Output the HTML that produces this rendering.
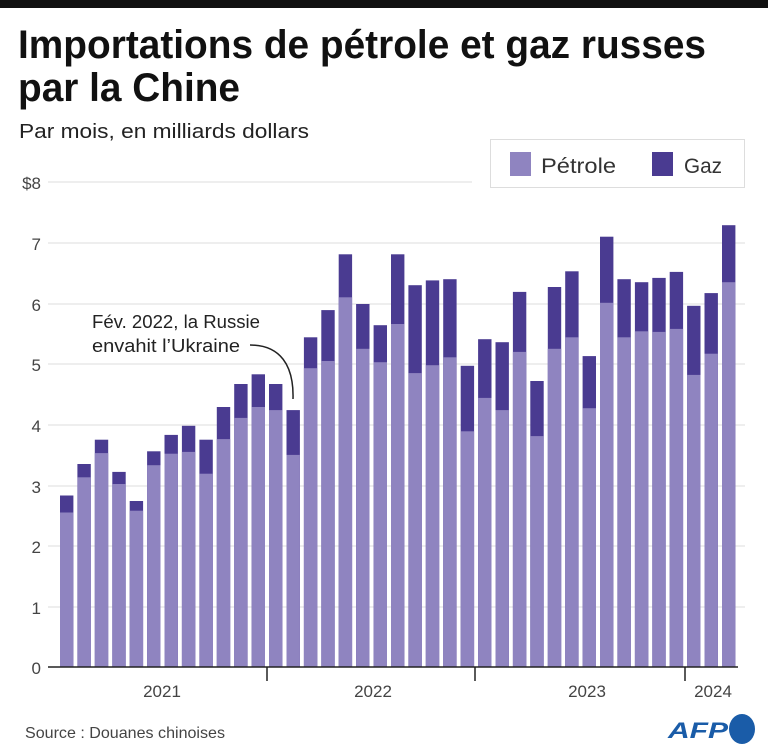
<!DOCTYPE html>
<html><head><meta charset="utf-8"><style>body{margin:0;background:#fff}svg{display:block}</style></head>
<body>
<svg width="768" height="755" xmlns="http://www.w3.org/2000/svg" font-family="Liberation Sans, sans-serif">
<rect x="0" y="0" width="768" height="8" fill="#111"/>
<text x="18" y="58" font-size="40" font-weight="bold" fill="#111" textLength="688" lengthAdjust="spacingAndGlyphs">Importations de pétrole et gaz russes</text>
<text x="18" y="101" font-size="40" font-weight="bold" fill="#111" textLength="222" lengthAdjust="spacingAndGlyphs">par la Chine</text>
<text x="19" y="138" font-size="20" fill="#222" textLength="290" lengthAdjust="spacingAndGlyphs">Par mois, en milliards dollars</text>
<rect x="490.5" y="139.5" width="254" height="48" fill="#fff" stroke="#ddd"/>
<rect x="510" y="152" width="21" height="24" fill="#8f84c0"/>
<text x="541" y="173" font-size="21" fill="#333" textLength="75" lengthAdjust="spacingAndGlyphs">Pétrole</text>
<rect x="652" y="152" width="21" height="24" fill="#4a3b91"/>
<text x="684" y="173" font-size="21" fill="#333" textLength="38" lengthAdjust="spacingAndGlyphs">Gaz</text>
<g stroke="#ddd" stroke-width="1">
<line x1="48" y1="182" x2="472" y2="182"/>
<line x1="48" y1="243" x2="745" y2="243"/>
<line x1="48" y1="304" x2="745" y2="304"/>
<line x1="48" y1="364" x2="745" y2="364"/>
<line x1="48" y1="425" x2="745" y2="425"/>
<line x1="48" y1="486" x2="745" y2="486"/>
<line x1="48" y1="546" x2="745" y2="546"/>
<line x1="48" y1="607" x2="745" y2="607"/>
</g>
<g font-size="17" fill="#444" text-anchor="end">
<text x="41" y="189">$8</text><text x="41" y="250">7</text><text x="41" y="311">6</text><text x="41" y="371">5</text><text x="41" y="432">4</text><text x="41" y="493">3</text><text x="41" y="553">2</text><text x="41" y="614">1</text><text x="41" y="674">0</text>
</g>
<g fill="#4a3b91">
<rect x="60.0" y="495.5" width="13.4" height="171.5"/>
<rect x="77.4" y="464.0" width="13.4" height="203.0"/>
<rect x="94.8" y="439.7" width="13.4" height="227.3"/>
<rect x="112.3" y="471.9" width="13.4" height="195.1"/>
<rect x="129.7" y="501.0" width="13.4" height="166.0"/>
<rect x="147.1" y="451.3" width="13.4" height="215.7"/>
<rect x="164.5" y="434.9" width="13.4" height="232.1"/>
<rect x="181.9" y="425.8" width="13.4" height="241.2"/>
<rect x="199.4" y="439.7" width="13.4" height="227.3"/>
<rect x="216.8" y="407.0" width="13.4" height="260.0"/>
<rect x="234.2" y="384.0" width="13.4" height="283.0"/>
<rect x="251.6" y="374.3" width="13.4" height="292.7"/>
<rect x="269.0" y="384.0" width="13.4" height="283.0"/>
<rect x="286.5" y="410.1" width="13.4" height="256.9"/>
<rect x="303.9" y="337.3" width="13.4" height="329.7"/>
<rect x="321.3" y="310.1" width="13.4" height="356.9"/>
<rect x="338.7" y="254.3" width="13.4" height="412.7"/>
<rect x="356.1" y="304.0" width="13.4" height="363.0"/>
<rect x="373.6" y="325.2" width="13.4" height="341.8"/>
<rect x="391.0" y="254.3" width="13.4" height="412.7"/>
<rect x="408.4" y="285.2" width="13.4" height="381.8"/>
<rect x="425.8" y="280.4" width="13.4" height="386.6"/>
<rect x="443.2" y="279.2" width="13.4" height="387.8"/>
<rect x="460.7" y="365.8" width="13.4" height="301.2"/>
<rect x="478.1" y="339.2" width="13.4" height="327.8"/>
<rect x="495.5" y="342.2" width="13.4" height="324.8"/>
<rect x="512.9" y="291.9" width="13.4" height="375.1"/>
<rect x="530.3" y="381.0" width="13.4" height="286.0"/>
<rect x="547.8" y="287.0" width="13.4" height="380.0"/>
<rect x="565.2" y="271.3" width="13.4" height="395.7"/>
<rect x="582.6" y="356.1" width="13.4" height="310.9"/>
<rect x="600.0" y="236.7" width="13.4" height="430.3"/>
<rect x="617.4" y="279.2" width="13.4" height="387.8"/>
<rect x="634.9" y="282.2" width="13.4" height="384.8"/>
<rect x="652.3" y="277.9" width="13.4" height="389.1"/>
<rect x="669.7" y="271.9" width="13.4" height="395.1"/>
<rect x="687.1" y="305.8" width="13.4" height="361.2"/>
<rect x="704.5" y="293.1" width="13.4" height="373.9"/>
<rect x="722.0" y="225.2" width="13.4" height="441.8"/>
</g>
<g fill="#8f84c0">
<rect x="60.0" y="512.5" width="13.4" height="154.5"/>
<rect x="77.4" y="477.3" width="13.4" height="189.7"/>
<rect x="94.8" y="453.1" width="13.4" height="213.9"/>
<rect x="112.3" y="484.0" width="13.4" height="183.0"/>
<rect x="129.7" y="510.7" width="13.4" height="156.3"/>
<rect x="147.1" y="465.2" width="13.4" height="201.8"/>
<rect x="164.5" y="453.7" width="13.4" height="213.3"/>
<rect x="181.9" y="451.9" width="13.4" height="215.1"/>
<rect x="199.4" y="473.7" width="13.4" height="193.3"/>
<rect x="216.8" y="439.1" width="13.4" height="227.9"/>
<rect x="234.2" y="417.9" width="13.4" height="249.1"/>
<rect x="251.6" y="407.0" width="13.4" height="260.0"/>
<rect x="269.0" y="410.1" width="13.4" height="256.9"/>
<rect x="286.5" y="454.9" width="13.4" height="212.1"/>
<rect x="303.9" y="368.2" width="13.4" height="298.8"/>
<rect x="321.3" y="361.0" width="13.4" height="306.0"/>
<rect x="338.7" y="297.3" width="13.4" height="369.7"/>
<rect x="356.1" y="348.8" width="13.4" height="318.2"/>
<rect x="373.6" y="362.2" width="13.4" height="304.8"/>
<rect x="391.0" y="324.0" width="13.4" height="343.0"/>
<rect x="408.4" y="373.1" width="13.4" height="293.9"/>
<rect x="425.8" y="365.2" width="13.4" height="301.8"/>
<rect x="443.2" y="357.3" width="13.4" height="309.7"/>
<rect x="460.7" y="431.3" width="13.4" height="235.7"/>
<rect x="478.1" y="397.9" width="13.4" height="269.1"/>
<rect x="495.5" y="410.1" width="13.4" height="256.9"/>
<rect x="512.9" y="351.9" width="13.4" height="315.1"/>
<rect x="530.3" y="436.1" width="13.4" height="230.9"/>
<rect x="547.8" y="348.8" width="13.4" height="318.2"/>
<rect x="565.2" y="337.3" width="13.4" height="329.7"/>
<rect x="582.6" y="408.2" width="13.4" height="258.8"/>
<rect x="600.0" y="302.8" width="13.4" height="364.2"/>
<rect x="617.4" y="337.3" width="13.4" height="329.7"/>
<rect x="634.9" y="331.3" width="13.4" height="335.7"/>
<rect x="652.3" y="331.9" width="13.4" height="335.1"/>
<rect x="669.7" y="328.9" width="13.4" height="338.1"/>
<rect x="687.1" y="374.9" width="13.4" height="292.1"/>
<rect x="704.5" y="353.7" width="13.4" height="313.3"/>
<rect x="722.0" y="282.2" width="13.4" height="384.8"/>
</g>
<line x1="48" y1="667" x2="738" y2="667" stroke="#222" stroke-width="1.5"/>
<g stroke="#222" stroke-width="1.5"><line x1="267" y1="667" x2="267" y2="681"/><line x1="475" y1="667" x2="475" y2="681"/><line x1="685" y1="667" x2="685" y2="681"/></g>
<g font-size="17" fill="#444" text-anchor="middle">
<text x="162" y="697">2021</text><text x="373" y="697">2022</text><text x="587" y="697">2023</text><text x="713" y="697">2024</text>
</g>
<text x="92" y="328" font-size="18" fill="#222" textLength="168" lengthAdjust="spacingAndGlyphs">Fév. 2022, la Russie</text>
<text x="92" y="352" font-size="18" fill="#222" textLength="148" lengthAdjust="spacingAndGlyphs">envahit l’Ukraine</text>
<path d="M250 345 C280 345 294 365 293 399" fill="none" stroke="#222" stroke-width="1.5"/>
<text x="25" y="738" font-size="16" fill="#444" textLength="200" lengthAdjust="spacingAndGlyphs">Source : Douanes chinoises</text>
<text x="668" y="738" font-size="22" font-weight="bold" font-style="italic" fill="#1a5ca8" textLength="60" lengthAdjust="spacingAndGlyphs">AFP</text>
<ellipse cx="742" cy="729" rx="13" ry="15" fill="#1a5ca8"/>
</svg>
</body></html>
